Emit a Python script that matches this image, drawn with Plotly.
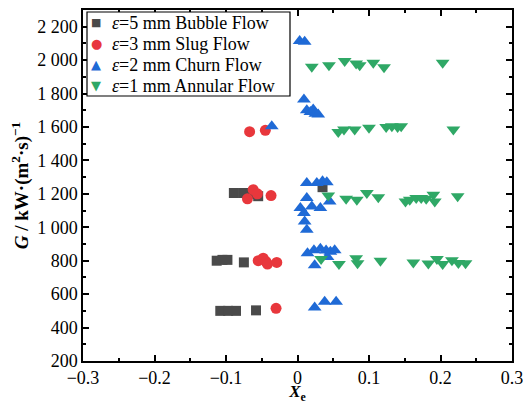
import plotly.graph_objects as go

# Bubble flow (eps = 5 mm)
bubble_x = [-0.108, -0.097, -0.086, -0.058,
            -0.113, -0.105, -0.098, -0.075,
            -0.089, -0.076, -0.066, -0.055, 0.035]
bubble_g = [500, 500, 500, 503,
            800, 805, 805, 790,
            1205, 1205, 1200, 1186, 1240]

# Slug flow (eps = 3 mm)
slug_x = [-0.030,
          -0.055, -0.048, -0.044, -0.042, -0.029,
          -0.070, -0.062, -0.056, -0.037,
          -0.067, -0.045]
slug_g = [515,
          800, 815, 795, 780, 790,
          1170, 1225, 1200, 1190,
          1572, 1580]

# Churn flow (eps = 2 mm)
churn_x = [0.024, 0.038, 0.054,
           0.014, 0.023, 0.032, 0.040, 0.046, 0.052, 0.042, 0.024,
           0.013, 0.027, 0.035, 0.041, 0.013, 0.004, 0.020, 0.032, 0.045, 0.009, 0.010, 0.013,
           -0.036,
           0.009, 0.013, 0.018, 0.022, 0.025, 0.029,
           0.003, 0.010]
churn_g = [520, 554, 554,
           845, 862, 872, 861, 853, 862, 822, 773,
           1265, 1265, 1275, 1269, 1175, 1115, 1125, 1115, 1155, 1085, 1035, 985,
           1605,
           1765, 1700, 1690, 1705, 1680, 1675,
           2115, 2110]

# Annular flow (eps = 1 mm)
annular_x = [0.033, 0.058, 0.082, 0.084, 0.116, 0.162, 0.183, 0.195, 0.203, 0.216, 0.225, 0.235,
             0.043, 0.068, 0.083, 0.097, 0.113, 0.151, 0.157, 0.166, 0.173, 0.180, 0.190, 0.192, 0.224,
             0.057, 0.065, 0.080, 0.100, 0.124, 0.132, 0.140, 0.145, 0.218,
             0.020, 0.044, 0.066, 0.082, 0.087, 0.106, 0.121, 0.203]
annular_g = [810, 780, 815, 785, 800, 790, 783, 810, 780, 803, 787, 785,
             1190, 1170, 1165, 1205, 1180, 1155, 1165, 1175, 1175, 1170, 1195, 1155, 1185,
             1570, 1585, 1585, 1595, 1600, 1605, 1600, 1605, 1585,
             1960, 1970, 1995, 1980, 1970, 1985, 1958, 1985]

series_names = ["<i>\u03b5</i>=5 mm Bubble Flow", "<i>\u03b5</i>=3 mm Slug Flow",
                "<i>\u03b5</i>=2 mm Churn Flow", "<i>\u03b5</i>=1 mm Annular Flow"]
series_colors = ["#4a4a4a", "#e8373c", "#1f6ad6", "#2fa866"]
series_symbols = ["square", "circle", "triangle-up", "triangle-down"]
legend_glyphs = ["\u25a0", "\u25cf", "\u25b2", "\u25bc"]

x_ticks = [-0.3, -0.2, -0.1, 0, 0.1, 0.2, 0.3]
x_ticktext = ["\u22120.3", "\u22120.2", "\u22120.1", "0", "0.1", "0.2", "0.3"]
y_ticks = [200, 400, 600, 800, 1000, 1200, 1400, 1600, 1800, 2000, 2200]
y_ticktext = ["200", "400", "600", "800", "1 000", "1 200", "1 400", "1 600", "1 800", "2 000", "2 200"]

FONT = "Liberation Serif, Times New Roman, serif"

fig = go.Figure()
data = [(bubble_x, bubble_g, 10), (slug_x, slug_g, 11), (churn_x, churn_g, 12), (annular_x, annular_g, 12)]
for (xs, ys, sz), name, col, sym in zip(data, series_names, series_colors, series_symbols):
    fig.add_trace(go.Scatter(
        x=xs, y=ys, mode="markers", name=name,
        marker=dict(symbol=sym, color=col, size=sz, line=dict(width=0)),
    ))

axis_common = dict(
    showline=True, linecolor="black", linewidth=1.5, mirror="ticks",
    ticks="inside", ticklen=6, tickwidth=1.5, tickcolor="black",
    showgrid=False, zeroline=False, automargin=False,
    tickfont=dict(family=FONT, size=18, color="black"),
)

fig.update_xaxes(
    range=[-0.3, 0.3], tickvals=x_ticks, ticktext=x_ticktext,
    minor=dict(ticks="inside", ticklen=3, tickwidth=1.5, tickcolor="black", dtick=0.05, tick0=0),
    title=dict(text="<b><i>X</i><sub>e</sub></b>", font=dict(family=FONT, size=17, color="black"), standoff=5),
    **axis_common,
)
fig.update_yaxes(
    range=[200, 2300], tickvals=y_ticks, ticktext=y_ticktext,
    minor=dict(ticks="inside", ticklen=3, tickwidth=1.5, tickcolor="black", dtick=100, tick0=0),
    title=dict(text="<b><i>G</i> / kW\u00b7(m<sup>2</sup>\u00b7s)<sup>\u22121</sup></b>",
               font=dict(family=FONT, size=19, color="black"), standoff=6),
    **axis_common,
)

# custom legend box (plot area: 429 x 351 px)
PW, PH = 429.0, 351.0
fig.add_shape(type="rect", xref="paper", yref="paper",
              x0=4 / PW, x1=207 / PW, y0=1 - 86 / PH, y1=1 - 2 / PH,
              line=dict(color="black", width=1.2), fillcolor="white", layer="above")
for i, (name, col, glyph) in enumerate(zip(series_names, series_colors, legend_glyphs)):
    yc = 1 - (13 + 21 * i) / PH
    gsize = 11 if glyph in ("\u25a0",) else 13
    fig.add_annotation(xref="paper", yref="paper", x=13 / PW, y=yc, xanchor="center", yanchor="middle",
                       text=glyph, showarrow=False,
                       font=dict(family="DejaVu Sans", size=gsize, color=col))
    fig.add_annotation(xref="paper", yref="paper", x=27 / PW, y=yc, xanchor="left", yanchor="middle",
                       text=name, showarrow=False,
                       font=dict(family=FONT, size=18, color="black"))

# page body has an 8px margin, so the figure is sized to fit the window from (8, 8)
fig.update_layout(
    width=523, height=396,
    margin=dict(l=75, r=19, t=2, b=43),
    paper_bgcolor="white", plot_bgcolor="white",
    font=dict(family=FONT, color="black"),
    showlegend=False,
)

fig.write_html("out.html")
